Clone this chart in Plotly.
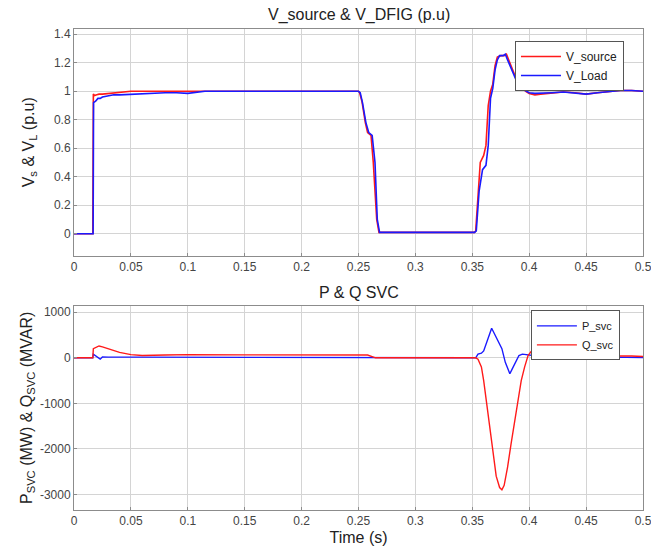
import plotly.graph_objects as go

# ---- Top plot data: V_source & V_Load (p.u) ----
t_vsource = [0, 0.0165, 0.017, 0.018, 0.02, 0.022, 0.025, 0.03, 0.035, 0.04, 0.05, 0.06, 0.07, 0.08, 0.09,
             0.1, 0.12, 0.15, 0.18, 0.2, 0.22, 0.25, 0.251, 0.253, 0.256, 0.258, 0.261, 0.263, 0.266, 0.268,
             0.3, 0.352, 0.353, 0.355, 0.357, 0.36, 0.362, 0.364, 0.366, 0.368, 0.37, 0.372, 0.375, 0.378,
             0.38, 0.383, 0.386, 0.39, 0.393, 0.397, 0.4, 0.405, 0.41, 0.42, 0.43, 0.44, 0.45, 0.46, 0.47,
             0.48, 0.49, 0.5]
v_source = [0, 0, 0.98, 0.97, 0.975, 0.98, 0.98, 0.985, 0.99, 0.995, 1.0, 1.0, 1.0, 0.995, 1.0,
            0.995, 1.0, 1.0, 1.0, 1.0, 1.0, 1.0, 0.99, 0.93, 0.78, 0.71, 0.69, 0.5, 0.1, 0.01,
            0.01, 0.01, 0.02, 0.3, 0.5, 0.55, 0.62, 0.9, 1.0, 1.05, 1.18, 1.24, 1.25, 1.25,
            1.26, 1.2, 1.14, 1.06, 1.03, 1.0, 0.985, 0.975, 0.98, 0.99, 0.995, 0.99, 0.98, 0.99, 1.0,
            1.005, 1.005, 1.0]

t_vload = [0, 0.0168, 0.0172, 0.019, 0.021, 0.023, 0.025, 0.03, 0.035, 0.04, 0.05, 0.06, 0.07, 0.08, 0.09,
           0.1, 0.115, 0.15, 0.18, 0.2, 0.22, 0.25, 0.2515, 0.2535, 0.2565, 0.259, 0.262, 0.2645, 0.2665, 0.2685,
           0.3, 0.352, 0.3535, 0.356, 0.359, 0.362, 0.364, 0.366, 0.368, 0.37, 0.372, 0.374, 0.377, 0.379,
           0.381, 0.384, 0.387, 0.39, 0.393, 0.397, 0.4, 0.405, 0.41, 0.42, 0.43, 0.44, 0.45, 0.46, 0.47,
           0.48, 0.49, 0.5]
v_load = [0, 0, 0.92, 0.93, 0.95, 0.95, 0.96, 0.97, 0.975, 0.975, 0.98, 0.985, 0.985, 0.99, 0.99,
          0.985, 1.0, 1.0, 1.0, 1.0, 1.0, 1.0, 0.99, 0.92, 0.78, 0.71, 0.69, 0.5, 0.1, 0.01,
          0.01, 0.01, 0.02, 0.3, 0.45, 0.48, 0.62, 0.95, 1.02, 1.15, 1.22, 1.25, 1.25, 1.26,
          1.22, 1.16, 1.1, 1.05, 1.02, 1.0, 0.99, 0.985, 0.985, 0.99, 0.995, 0.985, 0.98, 0.99, 1.0,
          1.005, 1.005, 1.0]

# ---- Bottom plot data: P & Q SVC ----
t_psvc = [0, 0.0165, 0.017, 0.019, 0.021, 0.023, 0.025, 0.03, 0.05, 0.1, 0.15, 0.2, 0.25, 0.265, 0.3,
          0.353, 0.355, 0.358, 0.36, 0.362, 0.365, 0.367, 0.369, 0.372, 0.376, 0.379, 0.381, 0.383,
          0.385, 0.388, 0.391, 0.394, 0.397, 0.4, 0.405, 0.41, 0.42, 0.43, 0.44, 0.45, 0.46, 0.47, 0.48,
          0.49, 0.5]
p_svc = [0, 0, 80, 40, 10, -30, 20, 15, 15, 15, 15, 15, 15, 0, 0,
         0, 80, 100, 150, 300, 500, 650, 550, 400, 200, -100, -250, -350,
         -250, -100, 50, 80, 70, 60, 40, 30, 15, 10, 10, 5, 0, 15, 10,
         10, 5]

t_qsvc = [0, 0.0165, 0.017, 0.019, 0.022, 0.025, 0.03, 0.035, 0.04, 0.05, 0.06, 0.08, 0.1, 0.15, 0.2, 0.25,
          0.258, 0.265, 0.3, 0.353, 0.355, 0.358, 0.36, 0.362, 0.365, 0.368, 0.371, 0.374, 0.376, 0.378,
          0.381, 0.384, 0.387, 0.39, 0.393, 0.396, 0.399, 0.403, 0.408, 0.415, 0.42, 0.425, 0.432, 0.437,
          0.442, 0.446, 0.45, 0.455, 0.46, 0.47, 0.48, 0.49, 0.5]
q_svc = [0, 0, 200, 220, 260, 240, 200, 160, 120, 70, 50, 60, 70, 65, 70, 70,
         60, 0, 0, 0, -30, -200, -500, -900, -1500, -2100, -2600, -2850, -2900, -2800,
         -2400, -1900, -1400, -900, -500, -200, 50, 180, 230, 220, 180, 130, 80, 120,
         230, 300, 300, 200, 120, 60, 40, 40, 30]

x_tick_vals = [0, 0.05, 0.1, 0.15, 0.2, 0.25, 0.3, 0.35, 0.4, 0.45, 0.5]
x_tick_text = ["0", "0.05", "0.1", "0.15", "0.2", "0.25", "0.3", "0.35", "0.4", "0.45", "0.5"]
y1_tick_vals = [0, 0.2, 0.4, 0.6, 0.8, 1.0, 1.2, 1.4]
y1_tick_text = ["0", "0.2", "0.4", "0.6", "0.8", "1", "1.2", "1.4"]
y2_tick_vals = [-3000, -2000, -1000, 0, 1000]
y2_tick_text = ["-3000", "-2000", "-1000", "0", "1000"]

RED = "#ff1a1a"
BLUE = "#1a1aff"
FONT = "Liberation Sans, Arial, sans-serif"

fig = go.Figure()
fig.add_trace(go.Scatter(x=t_vsource, y=v_source, mode="lines", name="V_source",
                         line=dict(color=RED, width=1.6), xaxis="x", yaxis="y", legend="legend"))
fig.add_trace(go.Scatter(x=t_vload, y=v_load, mode="lines", name="V_Load",
                         line=dict(color=BLUE, width=1.6), xaxis="x", yaxis="y", legend="legend"))
fig.add_trace(go.Scatter(x=t_psvc, y=p_svc, mode="lines", name="P_svc",
                         line=dict(color=BLUE, width=1.4), xaxis="x2", yaxis="y2", legend="legend2"))
fig.add_trace(go.Scatter(x=t_qsvc, y=q_svc, mode="lines", name="Q_svc",
                         line=dict(color=RED, width=1.4), xaxis="x2", yaxis="y2", legend="legend2"))

axis_common = dict(showgrid=True, gridcolor="#d4d4d4", gridwidth=1, showline=True, linecolor="#8c8c8c",
                   linewidth=1, mirror=True, zeroline=False, ticks="inside", ticklen=3, tickcolor="#8c8c8c",
                   automargin=False, ticklabeloverflow="allow",
                   tickfont=dict(family=FONT, size=12, color="#444444"))

fig.update_layout(
    width=651, height=550,
    paper_bgcolor="white", plot_bgcolor="white",
    margin=dict(l=74, r=8, t=29, b=40),
    font=dict(family=FONT, color="#333333"),
    showlegend=True,
    xaxis=dict(domain=[0, 1], range=[0, 0.5], tickvals=x_tick_vals, ticktext=x_tick_text,
               anchor="y", **axis_common),
    yaxis=dict(domain=[0.529, 1.0], range=[-0.153, 1.437], tickvals=y1_tick_vals, ticktext=y1_tick_text,
               anchor="x", title=dict(text="V<sub>s</sub> & V<sub>L</sub> (p.u)",
                                      font=dict(family=FONT, size=16, color="#222222"), standoff=15),
               **axis_common),
    xaxis2=dict(domain=[0, 1], range=[0, 0.5], tickvals=x_tick_vals, ticktext=x_tick_text, anchor="y2",
                title=dict(text="Time (s)", font=dict(family=FONT, size=16, color="#222222"), standoff=4),
                **axis_common),
    yaxis2=dict(domain=[0, 0.425], range=[-3343, 1147], tickvals=y2_tick_vals, ticktext=y2_tick_text,
                anchor="x2", title=dict(text="P<sub>SVC</sub> (MW) & Q<sub>SVC</sub> (MVAR)",
                                        font=dict(family=FONT, size=16, color="#222222"), standoff=3),
                **axis_common),
    legend=dict(x=0.775, y=0.975, xanchor="left", yanchor="top", bgcolor="white",
                bordercolor="#555555", borderwidth=1, font=dict(family=FONT, size=12, color="#222222"),
                tracegroupgap=0, itemwidth=40),
    legend2=dict(x=0.803, y=0.415, xanchor="left", yanchor="top", bgcolor="white",
                 bordercolor="#555555", borderwidth=1, font=dict(family=FONT, size=11, color="#222222"),
                 tracegroupgap=0, itemwidth=40),
    annotations=[
        dict(text="V_source & V_DFIG (p.u)", x=0.5, y=1.0, xref="paper", yref="paper",
             xanchor="center", yanchor="bottom", yshift=3, showarrow=False,
             font=dict(family=FONT, size=16, color="#222222")),
        dict(text="P & Q SVC", x=0.5, y=0.425, xref="paper", yref="paper",
             xanchor="center", yanchor="bottom", yshift=3, showarrow=False,
             font=dict(family=FONT, size=16, color="#222222")),
    ],
)

fig.write_html("out.html", config={"displayModeBar": False},
               post_script="document.body.style.margin='0';document.body.style.overflow='hidden';")
